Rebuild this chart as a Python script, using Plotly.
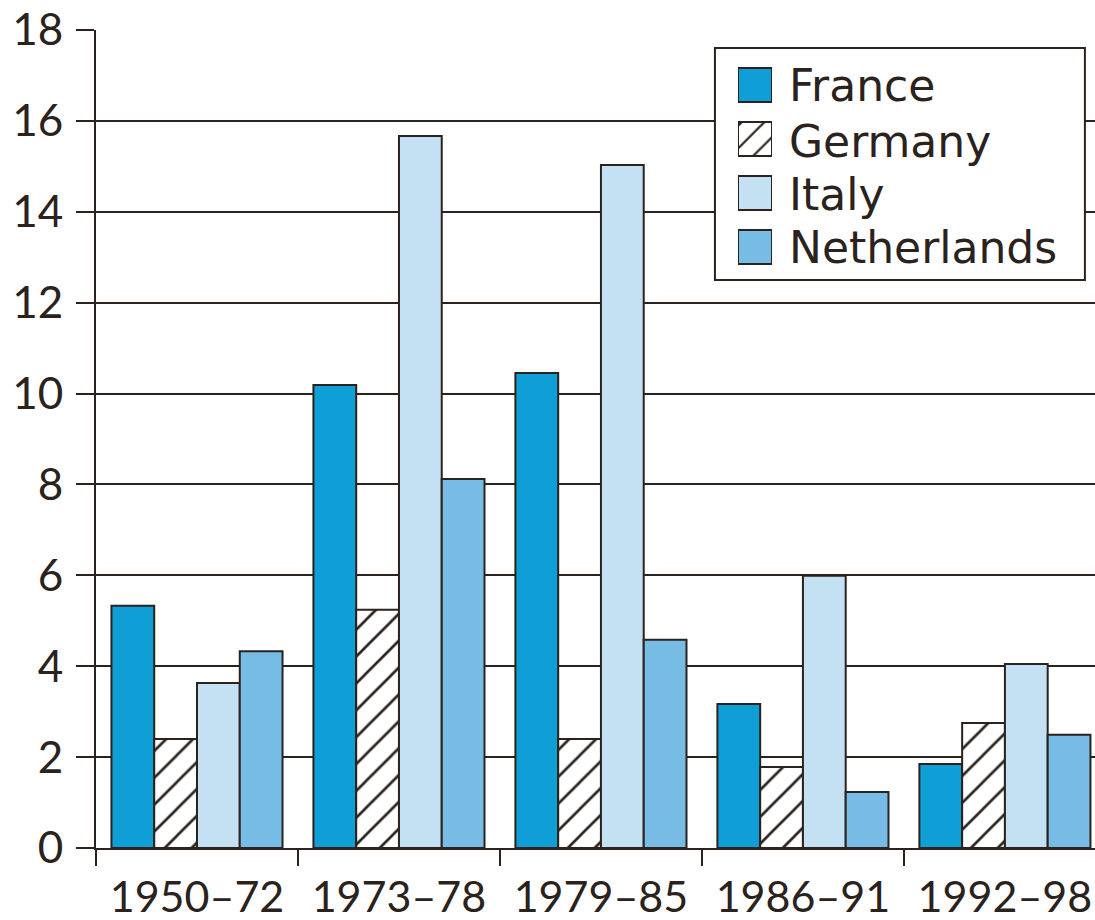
import plotly.graph_objects as go

# ---- data ----
periods = ["1950–72", "1973–78", "1979–85", "1986–91", "1992–98"]
countries = ["France", "Germany", "Italy", "Netherlands"]
france = [5.33, 10.19, 10.45, 3.17, 1.85]
germany = [2.4, 5.24, 2.4, 1.78, 2.75]
italy = [3.63, 15.67, 15.03, 5.99, 4.05]
netherlands = [4.33, 8.12, 4.58, 1.23, 2.49]
y_ticks = [0, 2, 4, 6, 8, 10, 12, 14, 16, 18]

series = [france, germany, italy, netherlands]

INK = "#2b221d"
FILL = {"France": "#109ed7", "Germany": "#ffffff", "Italy": "#c4e1f4", "Netherlands": "#76bce5"}
PATTERN = {"France": "", "Germany": "/", "Italy": "", "Netherlands": ""}
FONT = "Lato, 'Open Sans', sans-serif"
LEGEND_FONT = "'DejaVu Sans', 'Open Sans', sans-serif"

W, H = 1095, 920

fig = go.Figure()
for name, vals in zip(countries, series):
    fig.add_trace(go.Bar(
        x=periods, y=vals, name=name,
        marker=dict(
            color=FILL[name],
            line=dict(color=INK, width=2),
            pattern=dict(shape=PATTERN[name], fgcolor=INK, bgcolor="white",
                         size=19, solidity=0.14, fillmode="replace"),
        ),
        hoverinfo="x+y+name",
    ))

# legend swatches (custom legend drawn on a small auxiliary axis)
for c in countries:
    fig.add_trace(go.Bar(
        orientation="h", y=[c], x=[1],
        xaxis="x2", yaxis="y2", width=0.63, showlegend=False, hoverinfo="skip",
        marker=dict(
            color=FILL[c],
            line=dict(color=INK, width=2),
            pattern=dict(shape=PATTERN[c], fgcolor=INK, bgcolor="white",
                         size=16, solidity=0.14, fillmode="replace"),
        ),
    ))

# pixel helpers (plot area: x 96..1095, y 30..848)
def px_x(p):
    return (p - 96) / 999.0

def px_y(p):
    return (848 - p) / 818.0

def dx(p):  # pixel -> category-axis units
    return (p - 96) / 202.0 - 0.5

def dy(p):  # pixel -> value-axis units
    return (848 - p) / (818.0 / 18.0)

centers = [86, 141, 195, 247]

fig.update_layout(
    width=W, height=H,
    margin=dict(l=96, r=0, t=30, b=H - 848, autoexpand=False),
    paper_bgcolor="white", plot_bgcolor="rgba(0,0,0,0)",
    barmode="group", bargap=0.153, bargroupgap=0,
    showlegend=False,
    font=dict(family=FONT, size=44, color=INK),
    xaxis=dict(
        range=[-0.5, 4.446], showline=True, linecolor=INK, linewidth=2,
        ticks="outside", tickson="boundaries", ticklen=16, tickwidth=2, tickcolor=INK,
        showgrid=False, zeroline=False, tickfont=dict(size=43), automargin=False,
        ticklabelstandoff=10, ticklabeloverflow="allow",
    ),
    yaxis=dict(
        range=[0, 18], tickvals=y_ticks, showgrid=True, gridcolor=INK, gridwidth=2,
        showline=True, linecolor=INK, linewidth=2,
        ticks="outside", ticklen=18, tickwidth=2, tickcolor=INK,
        zeroline=False, tickfont=dict(size=44), ticklabelstandoff=4, automargin=False,
        ticklabeloverflow="allow",
    ),
    xaxis2=dict(domain=[px_x(738), px_x(772)], range=[0, 1], visible=False,
                anchor="y2", fixedrange=True),
    yaxis2=dict(domain=[px_y(274), px_y(58)], visible=False, anchor="x2",
                categoryorder="array", categoryarray=countries,
                autorange="reversed", fixedrange=True),
    shapes=[dict(
        type="rect", xref="x", yref="y",
        x0=dx(715), x1=dx(1085), y0=dy(280), y1=dy(48),
        fillcolor="white", line=dict(color=INK, width=2), layer="between",
    )],
    annotations=[
        dict(text=c, x=px_x(787), y=px_y(cy), xref="paper", yref="paper",
             xanchor="left", yanchor="middle", showarrow=False,
             font=dict(size=44, family=LEGEND_FONT, color=INK))
        for c, cy in zip(countries, centers)
    ],
)

fig.write_html("out.html",
               config={"displayModeBar": False},
               post_script="document.body.style.margin='0';document.body.style.overflow='hidden';")
